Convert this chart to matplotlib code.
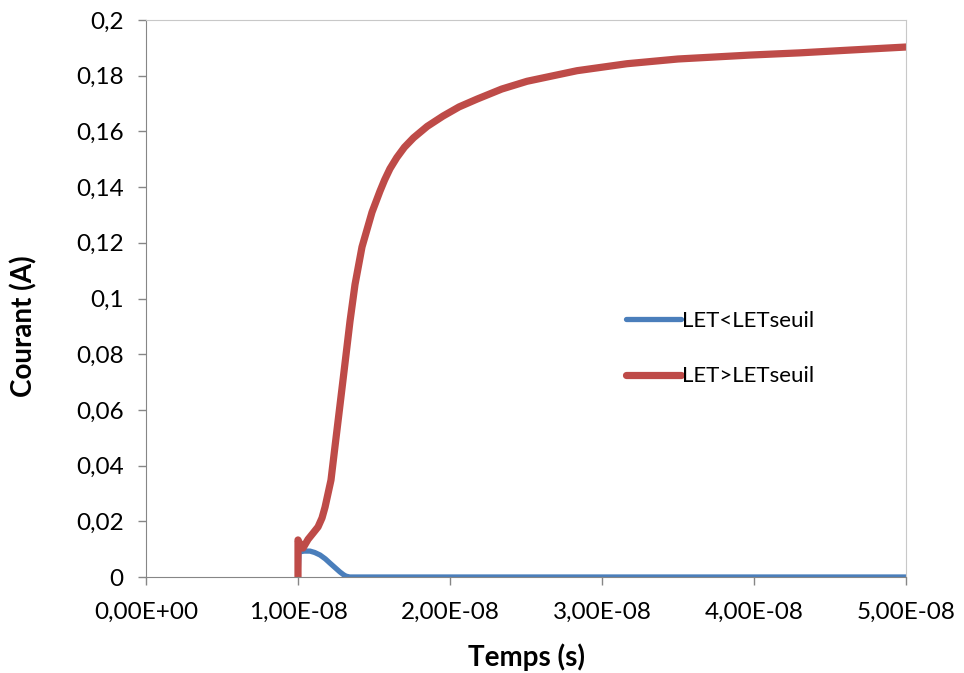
import matplotlib.pyplot as plt
from matplotlib.ticker import FuncFormatter, MultipleLocator

plt.rcParams['font.family'] = ['Lato', 'DejaVu Sans']

# data (time in s, current in A)
t_low = [1.0e-8, 1.007e-8, 1.04e-8, 1.079e-8, 1.11e-8, 1.145e-8, 1.18e-8, 1.21e-8,
         1.245e-8, 1.276e-8, 1.30e-8, 1.316e-8, 1.34e-8, 5.0e-8]
i_low = [0.0, 0.0090, 0.0093, 0.0093, 0.0088, 0.0079, 0.0065, 0.0050,
         0.0033, 0.0018, 0.0008, 0.0003, 0.0, 0.0]

t_high = [1.0e-8, 1.0e-8, 1.02e-8, 1.033e-8, 1.066e-8, 1.10e-8, 1.132e-8, 1.158e-8,
          1.178e-8, 1.217e-8, 1.243e-8, 1.270e-8, 1.296e-8, 1.322e-8, 1.342e-8,
          1.375e-8, 1.421e-8, 1.487e-8, 1.539e-8, 1.57e-8, 1.605e-8, 1.65e-8,
          1.70e-8, 1.76e-8, 1.85e-8, 1.954e-8, 2.06e-8, 2.178e-8, 2.34e-8,
          2.507e-8, 2.836e-8, 3.164e-8, 3.5e-8, 3.97e-8, 4.30e-8, 4.63e-8, 5.0e-8]
i_high = [0.0, 0.0133, 0.0110, 0.0104, 0.0135, 0.0158, 0.0180, 0.0212,
          0.0251, 0.0348, 0.0467, 0.0589, 0.0707, 0.0826, 0.0918,
          0.1050, 0.1185, 0.1310, 0.1385, 0.1426, 0.1466, 0.1506,
          0.1543, 0.1577, 0.1618, 0.1655, 0.1688, 0.1716, 0.1752,
          0.1780, 0.1818, 0.1843, 0.1860, 0.1874, 0.1882, 0.1892, 0.1903]

labels = ["LET<LETseuil", "LET>LETseuil"]


def fr_sci(v, pos):
    s = "%.2E" % v
    return s.replace(".", ",")


def fr_gen(v, pos):
    s = ("%.2f" % v).rstrip("0").rstrip(".")
    return s.replace(".", ",")


fig = plt.figure(figsize=(9.64, 6.73), dpi=100)
ax = fig.add_axes([146 / 964, 96 / 673, 760 / 964, 557 / 673])

ax.plot(t_low, i_low, color="#4a7ebb", lw=3.8, solid_capstyle="round",
        solid_joinstyle="round", label=labels[0])
ax.plot(t_high, i_high, color="#be4b48", lw=5.2, solid_capstyle="round",
        solid_joinstyle="round", label=labels[1])

ax.set_xlim(0, 5e-8)
ax.set_ylim(0, 0.2)
ax.xaxis.set_major_locator(MultipleLocator(1e-8))
ax.yaxis.set_major_locator(MultipleLocator(0.02))
ax.xaxis.set_major_formatter(FuncFormatter(fr_sci))
ax.yaxis.set_major_formatter(FuncFormatter(fr_gen))

for side in ["left", "bottom"]:
    ax.spines[side].set_color("#868686")
for side in ["top", "right"]:
    ax.spines[side].set_color("#c8c8c8")
ax.tick_params(axis="both", direction="out", length=6, width=1, color="#868686",
               labelsize=17.5, labelcolor="#000000")
ax.tick_params(axis="y", pad=10)
ax.tick_params(axis="x", pad=12)

ax.set_xlabel("Temps (s)", fontsize=20, fontweight="bold")
ax.set_ylabel("Courant (A)", fontsize=20, fontweight="bold")
ax.xaxis.set_label_coords(0.5, -0.12)
ax.yaxis.set_label_coords(-0.143, 0.45)

ax.legend(loc="center left", bbox_to_anchor=(0.605, 0.41), frameon=False,
          fontsize=16, handlelength=2.5, handletextpad=0.05, labelspacing=1.6)

fig.savefig("out.png", dpi=100)
